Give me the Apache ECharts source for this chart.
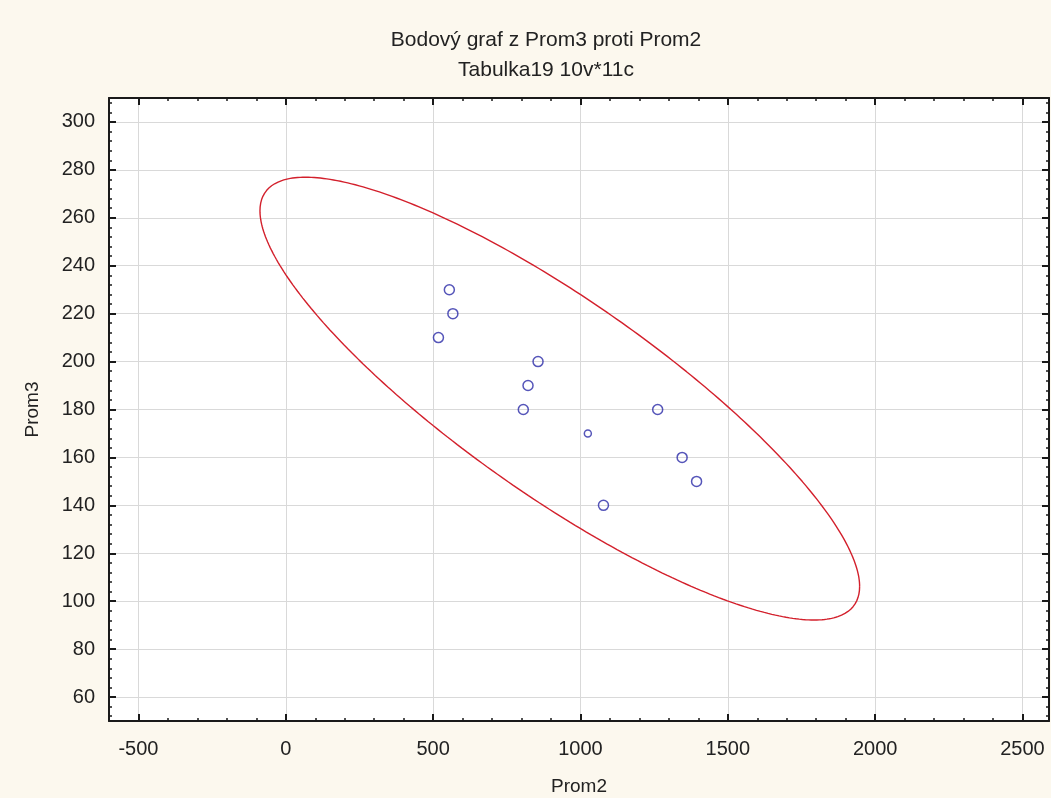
<!DOCTYPE html>
<html>
<head>
<meta charset="utf-8">
<script src="https://cdn.jsdelivr.net/npm/echarts@6/dist/echarts.min.js"></script>
<style>
html,body{margin:0;padding:0;background:#fcf8ee;}
#chart{width:1051px;height:798px;}
</style>
</head>
<body>
<div id="chart"></div>
<script>
// ---- data ----
const titleText = 'Bodový graf z Prom3 proti Prom2';
const subtitleText = 'Tabulka19 10v*11c';
const xName = 'Prom2';
const yName = 'Prom3';
const prom2 = [555, 567, 518, 856, 822, 806, 1025, 1262, 1345, 1394, 1078];
const prom3 = [230, 220, 210, 200, 190, 180, 170, 180, 160, 150, 140];
const xRange = [-600, 2590];
const yRange = [50, 310];
const confLevelF = 4.2565; // F(2, n-2, 0.95) for n = 11

// ---- 95% prediction ellipse computed from the data ----
const n = prom2.length;
const mx = prom2.reduce((a, b) => a + b, 0) / n;
const my = prom3.reduce((a, b) => a + b, 0) / n;
let sxx = 0, syy = 0, sxy = 0;
for (let i = 0; i < n; i++) {
  const dx = prom2[i] - mx, dy = prom3[i] - my;
  sxx += dx * dx; syy += dy * dy; sxy += dx * dy;
}
sxx /= (n - 1); syy /= (n - 1); sxy /= (n - 1);
const k = Math.sqrt(2 * (n - 1) * (n + 1) / (n * (n - 2)) * confLevelF);
const l11 = Math.sqrt(sxx);
const l21 = sxy / l11;
const l22 = Math.sqrt(Math.max(syy - l21 * l21, 0));
const ellipse = [];
const steps = 360;
for (let i = 0; i <= steps; i++) {
  const t = 2 * Math.PI * i / steps;
  const c = Math.cos(t), s = Math.sin(t);
  ellipse.push([mx + k * l11 * c, my + k * (l21 * c + l22 * s)]);
}
const points = prom2.map((v, i) => [v, prom3[i]]);

const font = '"Liberation Sans", Arial, sans-serif';
const frameColor = '#1a1a1a';
const textColor = '#222';

function xAxisDef(pos, showLabels) {
  return {
    type: 'value', position: pos, min: xRange[0], max: xRange[1], splitNumber: 6,
    name: showLabels ? xName : '', nameLocation: 'middle', nameGap: 56,
    nameTextStyle: {fontFamily: font, fontSize: 19, color: textColor},
    axisLine: {show: true, onZero: false, lineStyle: {color: frameColor, width: 2}},
    axisTick: {show: true, inside: true, length: 7, lineStyle: {color: frameColor, width: 2}},
    minorTick: {show: true, splitNumber: 5, length: 3, lineStyle: {color: frameColor, width: 1.5}},
    axisLabel: {show: showLabels, showMinLabel: false, showMaxLabel: false, margin: 18,
      fontFamily: font, fontSize: 20, color: textColor, formatter: v => String(v)},
    splitLine: {show: showLabels, lineStyle: {color: '#d9d9d9', width: 1}},
    minorSplitLine: {show: false}
  };
}
function yAxisDef(pos, showLabels) {
  return {
    type: 'value', position: pos, min: yRange[0], max: yRange[1], splitNumber: 13,
    name: showLabels ? yName : '', nameLocation: 'middle', nameGap: 67, nameRotate: 90,
    nameTextStyle: {fontFamily: font, fontSize: 19, color: textColor},
    axisLine: {show: true, onZero: false, lineStyle: {color: frameColor, width: 2}},
    axisTick: {show: true, inside: true, length: 7, lineStyle: {color: frameColor, width: 2}},
    minorTick: {show: true, splitNumber: 5, length: 3, lineStyle: {color: frameColor, width: 1.5}},
    axisLabel: {show: showLabels, showMinLabel: false, showMaxLabel: false, margin: 14,
      fontFamily: font, fontSize: 20, color: textColor, formatter: v => String(v)},
    splitLine: {show: showLabels, lineStyle: {color: '#d9d9d9', width: 1}},
    minorSplitLine: {show: false}
  };
}

const chart = echarts.init(document.getElementById('chart'), null, {renderer: 'canvas'});
chart.setOption({
  backgroundColor: '#fcf8ee',
  animation: false,
  title: [
    {text: titleText, left: 541, top: 25, textAlign: 'center',
     textStyle: {fontFamily: font, fontSize: 21, fontWeight: 'normal', color: textColor}},
    {text: subtitleText, left: 541, top: 55, textAlign: 'center',
     textStyle: {fontFamily: font, fontSize: 21, fontWeight: 'normal', color: textColor}}
  ],
  grid: {left: 109, right: 2, top: 98, bottom: 77, show: true, backgroundColor: '#ffffff',
    borderWidth: 0, containLabel: false, outerBoundsMode: 'none'},
  xAxis: [xAxisDef('bottom', true), xAxisDef('top', false)],
  yAxis: [yAxisDef('left', true), yAxisDef('right', false)],
  series: [
    {
      type: 'line', data: ellipse, xAxisIndex: 0, yAxisIndex: 0,
      showSymbol: false, symbol: 'none', smooth: false, z: 2,
      lineStyle: {color: '#d3202c', width: 1.4}
    },
    {
      type: 'scatter', data: points, xAxisIndex: 0, yAxisIndex: 0, z: 3,
      symbol: 'circle',
      symbolSize: (v, p) => (p.dataIndex === 6 ? 7 : 10),
      itemStyle: {color: 'rgba(255,255,255,0)', borderColor: '#2a2aa8', borderWidth: 1.5}
    }
  ]
});
</script>
</body>
</html>
